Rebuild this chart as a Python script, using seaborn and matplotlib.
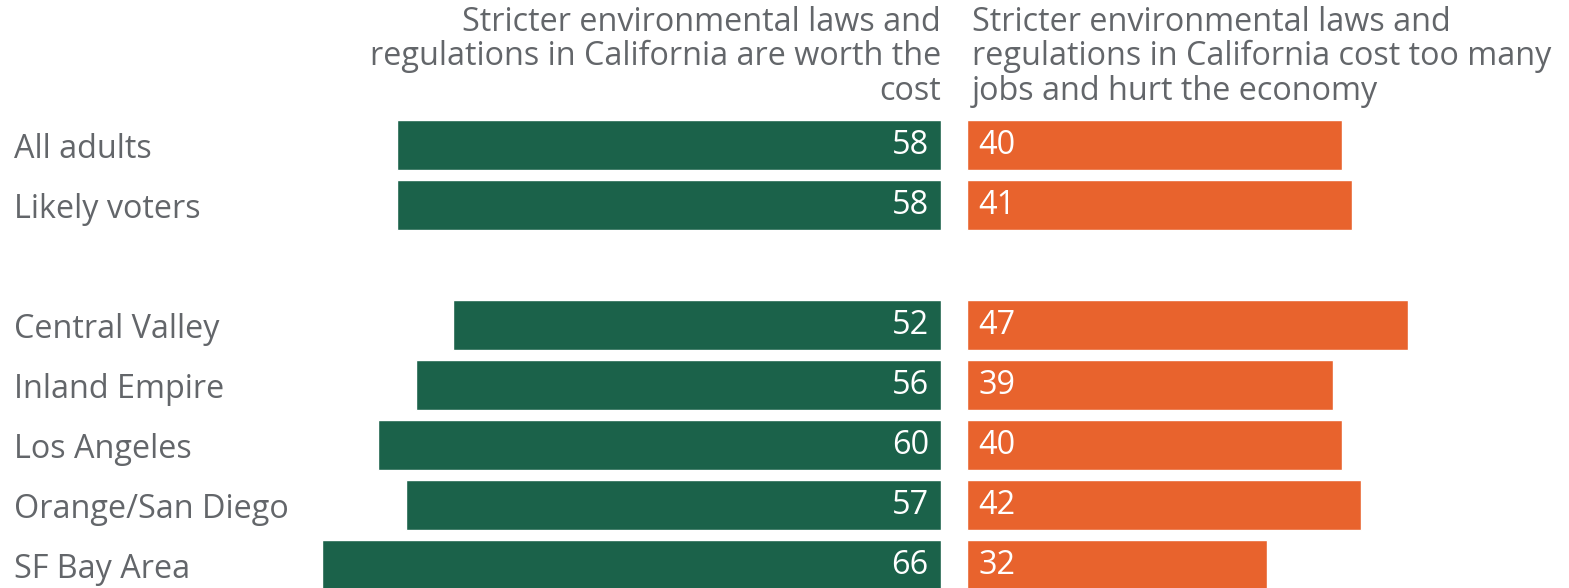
import matplotlib
matplotlib.use("Agg")
import matplotlib.pyplot as plt
import pandas as pd
import seaborn as sns

# ---------------------------------------------------------------------------
# Daten
# ---------------------------------------------------------------------------
groups = ["All adults", "Likely voters", "Central Valley", "Inland Empire",
          "Los Angeles", "Orange/San Diego", "SF Bay Area"]
worth_cost = [58, 58, 52, 56, 60, 57, 66]
hurt_economy = [40, 41, 47, 39, 40, 42, 32]
header_left = "Stricter environmental laws and\nregulations in California are worth the\ncost"
header_right = "Stricter environmental laws and\nregulations in California cost too many\njobs and hurt the economy"

# Leerzeile zwischen Gesamt und Regionen
order = groups[:2] + [" "] + groups[2:]

GREEN = "#1b624a"
ORANGE = "#e8632d"
TEXT = "#63666a"
FONT = ["Open Sans", "DejaVu Sans"]
FS = 23.3

df = pd.DataFrame({"group": groups, "worth": worth_cost, "hurt": hurt_economy})

sns.set_theme(style="white")
plt.rcParams["font.family"] = FONT

W, H = 1569, 588
PX_PER_UNIT = 9.38
fig = plt.figure(figsize=(W / 100, H / 100), dpi=100)

top = 473 / H
ax_l = fig.add_axes([0, 0, 941 / W, top])
ax_r = fig.add_axes([967 / W, 0, (W - 967) / W, top])

sns.barplot(data=df, y="group", x="worth", order=order, color=GREEN,
            width=0.83, saturation=1, ax=ax_l)
sns.barplot(data=df, y="group", x="hurt", order=order, color=ORANGE,
            width=0.83, saturation=1, ax=ax_r)

ymax = (H - 145) / 60
for ax in (ax_l, ax_r):
    ax.set_ylim(ymax, -0.5)
    ax.set_xlabel("")
    ax.set_ylabel("")
    ax.set_xticks([])
    sns.despine(ax=ax, left=True, bottom=True)

ax_l.set_xlim(941 / PX_PER_UNIT, 0)
ax_r.set_xlim(0, (W - 967) / PX_PER_UNIT)
ax_r.set_yticks([])

# Kategorienbeschriftung links
ax_l.tick_params(axis="y", length=0, pad=-10, labelsize=FS, labelcolor=TEXT)
for lbl in ax_l.get_yticklabels():
    lbl.set_ha("left")

# Werte in den Balken
for i, g in enumerate(order):
    if g not in groups:
        continue
    k = groups.index(g)
    ax_l.text(1.3, i, str(worth_cost[k]), ha="right", va="center",
              color="white", fontsize=FS)
    ax_r.text(1.2, i, str(hurt_economy[k]), ha="left", va="center",
              color="white", fontsize=FS)

# Spaltenköpfe
fig.text(941 / W, 1 - 6 / H, header_left, ha="right", va="top",
         color=TEXT, fontsize=FS, linespacing=1.05)
fig.text(972 / W, 1 - 6 / H, header_right, ha="left", va="top",
         color=TEXT, fontsize=FS, linespacing=1.05)

fig.savefig("out.png", dpi=100)
